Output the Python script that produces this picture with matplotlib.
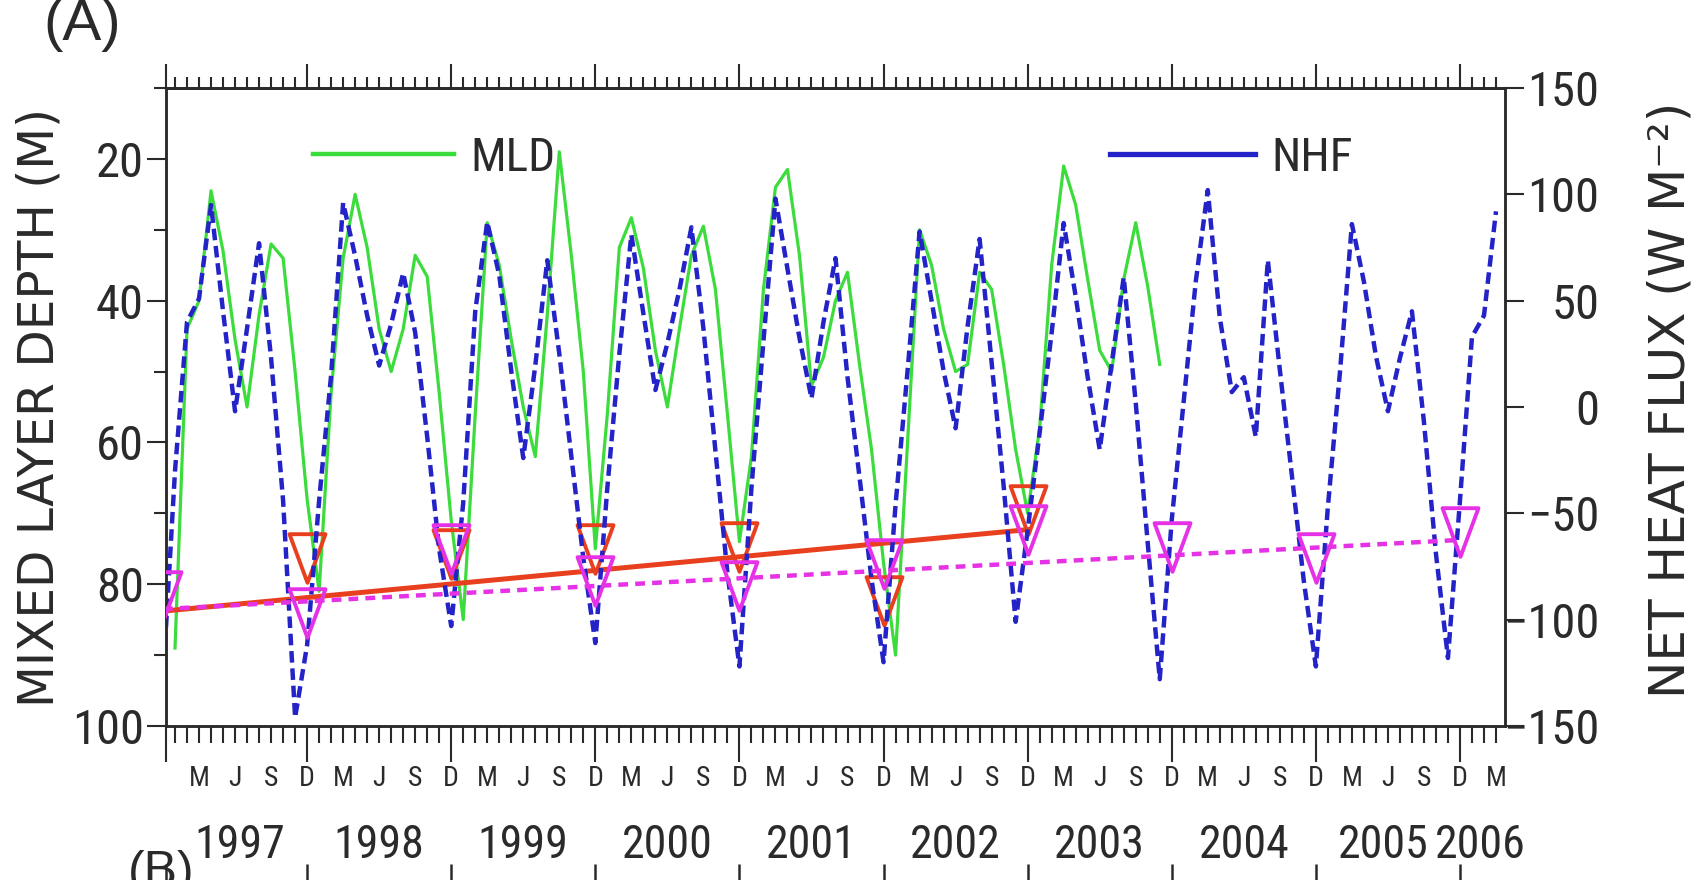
import matplotlib
matplotlib.use("Agg")
import matplotlib.pyplot as plt
from matplotlib import font_manager
from matplotlib.lines import Line2D
from matplotlib.path import Path
import matplotlib.transforms as mtransforms

# ---------------- data (months since Jan 1997; 0 = Jan 1997) ----------------
mld_month = list(range(0, 83))
mld = [89, 44, 40, 24.5, 33, 45.5, 55, 42, 32, 34, 50, 68,
       81, 53, 34, 25, 32.5, 44, 50, 44, 33.6, 36.6, 53, 71,
       85, 56, 29, 35, 45.5, 55, 62, 42, 19, 33.6, 50, 75,
       56, 32.5, 28.3, 35.4, 47, 55, 44, 33.6, 29.5, 38.4, 56, 74,
       62, 38.4, 24, 21.5, 33.6, 52, 48, 40, 36, 49, 61, 77,
       90, 60, 30, 35, 44, 50, 49, 36, 38.4, 49, 61, 70,
       58, 35, 21, 26.5, 37, 47, 50, 37, 29, 38, 49]

nhf_month = list(range(-1, 111))
nhf = [-128,
       -30, 40, 51, 95, 45, -2, 37, 77, 23, -44, -146, -112,
       -44, 15, 96, 71, 43, 19.5, 39, 63, 35, -14, -67, -103,
       -45, 45, 87, 62, 17, -24, 19.5, 69, 25, -23, -71, -111,
       -38, 25, 81, 44, 8, 30, 55, 84.5, 37, -20.5, -78, -122,
       -38, 31, 98, 65, 32.5, 4, 40, 70, 14, -33, -81, -120,
       -46, 17, 82.5, 50, 17, -10, 38, 79, 21, -37, -101, -58,
       -12, 35, 86.5, 52, 14, -20, 20.5, 61, 2, -64, -128, -53,
       3, 59, 102, 42, 7, 14, -14, 69, 17.5, -32, -82, -122,
       -47, 16, 86, 59, 24, -2, 23, 45, -7, -69, -118, -44,
       33, 43, 92]

mld_max_month = [11, 23, 35, 47, 59, 71]
mld_max = [76.3, 75.8, 75.1, 74.8, 82.4, 69.6]
nhf_min_month = [-1, 11, 23, 35, 47, 59, 71, 83, 95, 107]
nhf_min = [-89, -97, -67, -82, -84, -74, -58, -66, -71, -59]

mld_trend_month = [-1, 71]
mld_trend = [83.8, 72.3]
nhf_trend_month = [-1, 107]
nhf_trend = [-95, -62.5]

month_letter = {2: "M", 5: "J", 8: "S", 11: "D"}
year_names = ["1997", "1998", "1999", "2000", "2001", "2002",
              "2003", "2004", "2005", "2006"]
year_label_month = [5.4, 17, 29, 41, 53, 65, 77, 89, 100.6, 108.7]
year_tick_month = [-0.75, 11, 23, 35, 47, 59, 71, 83, 95, 107]

depth_ticks = [20, 40, 60, 80, 100]
depth_minor = [10, 30, 50, 70, 90]
flux_ticks = [-150, -100, -50, 0, 50, 100, 150]

# ---------------- fonts ----------------
avail = {f.name for f in font_manager.fontManager.ttflist}
cands = ["Liberation Sans Narrow", "Roboto Condensed", "Noto Sans Condensed",
         "Open Sans Condensed", "DejaVu Sans Condensed"]
narrow = next((c for c in cands if c in avail), None)
if narrow:
    base, k = narrow, 1.0
else:
    base, k = "Liberation Sans", 0.82
plt.rcParams["font.family"] = [base, "DejaVu Sans"]

green = "#3cdc3c"
blue = "#2323c8"
red = "#e8401e"
magenta = "#e632e6"
ink = "#2a2a2a"

W, H = 1694, 880
fig = plt.figure(figsize=(W / 100, H / 100), dpi=100)
L, R, T, B = 166, 1505, 88, 726
ax = fig.add_axes([L / W, (H - B) / H, (R - L) / W, (B - T) / H])
ax2 = ax.twinx()

ax.set_xlim(-0.75, 110.75)
ax.set_ylim(100, 10)
ax2.set_ylim(-150, 150)

tri = Path([(-0.74, 1), (0.74, 1), (0, -1), (-0.74, 1)],
           [Path.MOVETO, Path.LINETO, Path.LINETO, Path.CLOSEPOLY])

ax.plot(mld_month, mld, color=green, lw=2.3, zorder=2)
ax.plot(mld_trend_month, mld_trend, color=red, lw=3.6, zorder=3)
ax.plot(mld_max_month, mld_max, ls="none", marker=tri, ms=35,
        mfc="none", mec=red, mew=2.8, zorder=4)

ax2.plot(nhf_month, nhf, color=blue, lw=3.2, ls=(0, (2.6, 1.3)), zorder=2)
ax2.plot(nhf_trend_month, nhf_trend, color=magenta, lw=3.2,
         ls=(0, (2.2, 1.6)), zorder=3)
ax2.plot(nhf_min_month, nhf_min, ls="none", marker=tri, ms=35,
         mfc="none", mec=magenta, mew=2.8, zorder=4)

# ---------------- spines ----------------
for a in (ax, ax2):
    for s in a.spines.values():
        s.set_color(ink)
        s.set_linewidth(1.8)

# ---------------- x axis (bottom) ----------------
minor_months = [m for m in range(0, 111) if m % 12 != 11]
minor_labels = [month_letter.get(m % 12, "") for m in minor_months]
major_labels = ["" if m < 0 else "D" for m in year_tick_month]
ax.set_xticks(year_tick_month, labels=major_labels)
ax.set_xticks(minor_months, labels=minor_labels, minor=True)
ax.tick_params(axis="x", which="major", direction="out", length=26, width=1.5,
               color=ink, labelsize=20 * k, pad=2, labelcolor=ink)
ax.tick_params(axis="x", which="minor", direction="out", length=12, width=1.5,
               color=ink, labelsize=20 * k, pad=16, labelcolor=ink)

# top ticks
sec = ax.secondary_xaxis("top")
sec.set_xticks(year_tick_month, labels=[""] * len(year_tick_month))
sec.set_xticks(minor_months, labels=[""] * len(minor_months), minor=True)
sec.tick_params(which="major", direction="out", length=17, width=1.5, color=ink)
sec.tick_params(which="minor", direction="out", length=8, width=1.5, color=ink)
sec.spines["top"].set_linewidth(1.8)
sec.spines["top"].set_color(ink)

# year labels and separators
blend = mtransforms.blended_transform_factory(ax.transData, ax.transAxes)
for m, name in zip(year_label_month, year_names):
    ax.text(m, (B - 845) / (B - T), name, transform=blend, ha="center",
            va="center", fontsize=33 * k, color=ink)
ax.vlines(year_tick_month, (B - 864) / (B - T), (B - 890) / (B - T),
          transform=blend, clip_on=False, color=ink, lw=1.8)

# ---------------- y axes ----------------
ax.set_yticks(depth_ticks, labels=[str(v) for v in depth_ticks])
ax.set_yticks(depth_minor, labels=[""] * len(depth_minor), minor=True)
ax.tick_params(axis="y", which="major", direction="out", length=14, width=1.5,
               color=ink, labelsize=35 * k, pad=2, labelcolor=ink)
ax.tick_params(axis="y", which="minor", direction="out", length=9, width=1.5,
               color=ink)

ax2.set_yticks(flux_ticks,
               labels=[str(v).replace("-", "\u2212") for v in flux_ticks])
ax2.tick_params(axis="y", which="major", direction="out", length=14, width=1.5,
                color=ink, labelsize=35 * k, pad=54, labelcolor=ink)
for t in ax2.yaxis.get_major_ticks():
    t.label2.set_horizontalalignment("right")

ax.set_ylabel("MIXED LAYER DEPTH (M)", fontsize=35, family="DejaVu Sans",
              color=ink, va="center")
ax.yaxis.set_label_coords((40 - L) / (R - L), (B - 407) / (B - T))
ax2.set_ylabel("NET HEAT FLUX (W M\u207b\u00b2)", fontsize=36,
               family="DejaVu Sans", color=ink, va="center")
ax2.yaxis.set_label_coords((1670 - L) / (R - L), (B - 400) / (B - T))

# ---------------- legends ----------------
fs_leg = 34 * k
px = fs_leg * 100 / 72
leg1 = ax.legend(handles=[Line2D([], [], color=green, lw=3.2)], labels=["MLD"],
                 loc="center left", bbox_to_anchor=(313 / W, 1 - 158 / H),
                 bbox_transform=fig.transFigure, frameon=False, fontsize=fs_leg,
                 handlelength=141 / px, handletextpad=16 / px, borderpad=0,
                 borderaxespad=0, labelcolor=ink)
leg2 = ax2.legend(handles=[Line2D([], [], color=blue, lw=3.8)], labels=["NHF"],
                  loc="center left", bbox_to_anchor=(1110 / W, 1 - 158 / H),
                  bbox_transform=fig.transFigure, frameon=False, fontsize=fs_leg,
                  handlelength=145 / px, handletextpad=16 / px, borderpad=0,
                  borderaxespad=0, labelcolor=ink)

# ---------------- panel letters ----------------
fig.text(43 / W, 1 - 40 / H, "(A)", fontsize=42, family="Liberation Sans",
         color=ink, va="baseline")
fig.text(128 / W, 1 - 886 / H, "(B)", fontsize=36, family="Liberation Sans",
         color=ink, va="baseline")

fig.savefig("out.png", dpi=100)
